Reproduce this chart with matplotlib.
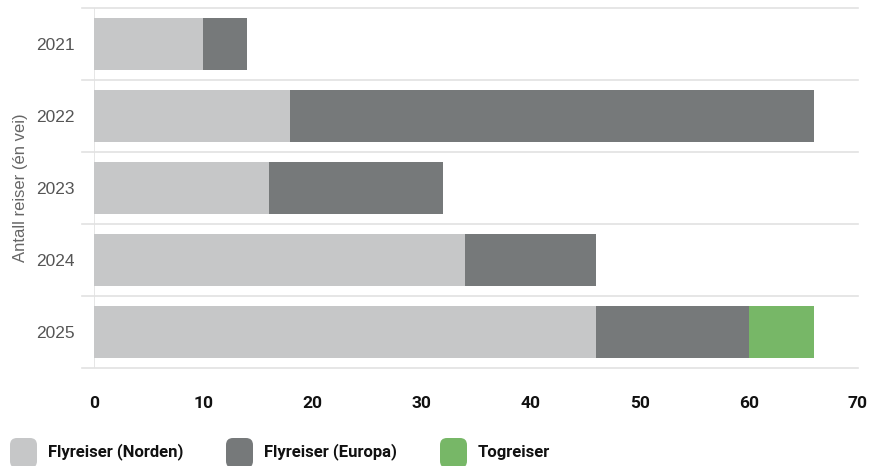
import matplotlib
matplotlib.use("Agg")
import matplotlib.pyplot as plt
import numpy as np
from matplotlib.patches import FancyBboxPatch

years = ["2021", "2022", "2023", "2024", "2025"]
norden = [10, 18, 16, 34, 46]
europa = [4, 48, 16, 12, 14]
tog = [0, 0, 0, 0, 6]
series_names = ["Flyreiser (Norden)", "Flyreiser (Europa)", "Togreiser"]
colors = ["#c6c7c8", "#76797a", "#77b767"]
xticks = [0, 10, 20, 30, 40, 50, 60, 70]

bold_font = ["Liberation Sans Narrow", "Roboto", "DejaVu Sans"]
plt.rcParams["font.family"] = ["Liberation Sans", "DejaVu Sans"]

fig = plt.figure(figsize=(8.7, 4.66), dpi=100)
ax = fig.add_axes([94 / 870, 1 - 368 / 466, 764 / 870, 360 / 466])

y = np.arange(len(years))
left = np.zeros(len(years))
for vals, name, c in zip([norden, europa, tog], series_names, colors):
    vals = np.array(vals, dtype=float)
    ax.barh(y, vals, left=left, height=0.72, color=c, label=name, zorder=3)
    left += vals

ax.set_ylim(len(years) - 0.5, -0.5)
ax.set_xlim(0, 70)

# separators between categories, reaching a bit left of the axis
for b in np.arange(-0.5, len(years), 1.0):
    ax.axhline(b, xmin=-12 / 764, xmax=1, color="#e2e2e2", lw=1.2,
               clip_on=False, zorder=1)
ax.axvline(0, color="#e2e2e2", lw=1.2, zorder=1)

for s in ax.spines.values():
    s.set_visible(False)

ax.set_yticks(y)
ax.set_yticklabels(years, color="#555555", fontsize=12.5)
ax.set_xticks(xticks)
ax.set_xticklabels([str(t) for t in xticks], fontsize=12.5,
                   fontweight="bold", family=bold_font, color="#111111")
ax.tick_params(axis="both", length=0)
ax.tick_params(axis="x", pad=20)
ax.tick_params(axis="y", pad=14)
ax.set_ylabel("Antall reiser (én vei)", color="#666666", fontsize=12, labelpad=6)

# legend at the bottom
leg_x = [10, 226, 440]
for lx, name, c in zip(leg_x, series_names, colors):
    box = FancyBboxPatch((lx / 870, 1 - 468 / 466), 27 / 870, 30 / 466,
                         boxstyle="round,pad=0,rounding_size=0.008",
                         transform=fig.transFigure, facecolor=c,
                         edgecolor="none", mutation_aspect=870 / 466)
    fig.add_artist(box)
    fig.text((lx + 38) / 870, 1 - 452 / 466, name, fontsize=12,
             fontweight="bold", family=bold_font, color="#111111", va="center")

fig.savefig("out.png", dpi=100)
